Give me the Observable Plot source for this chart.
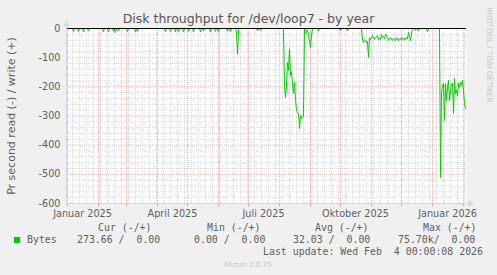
<!DOCTYPE html>
<html><head><meta charset="utf-8">
<script src="https://cdn.jsdelivr.net/npm/d3@7"></script>
<script src="https://cdn.jsdelivr.net/npm/@observablehq/plot@0.6"></script>
<style>
html,body{margin:0;padding:0;background:#f0f0f0;}
#wrap{position:relative;width:497px;height:275px;background:#f0f0f0;overflow:hidden;}
#wrap svg{position:absolute;left:0;top:0;}
.t{position:absolute;white-space:pre;}
</style></head><body><div id="wrap"></div>
<script>
// ---- chart texts ----
const title = "Disk throughput for /dev/loop7 - by year";
const yLabel = "Pr second read (-) / write (+)";
const watermark = "RRDTOOL / TOBI OETIKER";
const footer = "Munin 2.0.75";
// ---- axis ticks ----
const yTicks = [0, -100, -200, -300, -400, -500, -600];
const yTickLabels = ["0", "-100", "-200", "-300", "-400", "-500", "-600"];
const xLabelDates = ["2025-01-16", "2025-04-16", "2025-07-16", "2025-10-16", "2026-01-16"];
const xLabels = ["Januar 2025", "April 2025", "Juli 2025", "Oktober 2025", "Januar 2026"];
// ---- series: read bytes per second (negative side), daily ----
const spikeDates = ["2025-01-07","2025-01-12","2025-01-17","2025-01-22","2025-02-06","2025-02-11","2025-02-16","2025-02-18","2025-02-21","2025-03-02","2025-03-10","2025-03-12","2025-04-09","2025-04-14","2025-04-19","2025-04-22","2025-04-27","2025-05-02","2025-05-07","2025-05-14","2025-05-17","2025-05-24","2025-05-29","2025-06-01","2025-06-10","2025-06-13","2025-07-10","2025-07-13","2025-09-09","2025-10-01","2025-10-08","2025-12-15","2025-12-18","2025-12-27"];
const spikeValues = [-11,-10,-12,-9,-11,-12,-10,-13,-9,-11,-12,-10,-11,-10,-12,-10,-12,-10,-11,-11,-9,-12,-10,-11,-9,-11,-8,-7,-8,-8,-9,-7,-8,-11];
const juneStart = "2025-06-19";
const juneValues = [-12, -88, -5];
const augStart = "2025-08-06";
const augValues = [-200,-237,-200,-117,-144,-70,-161,-150,-189,-223,-185,-240,-281,-288,-290,-343,-298,-305,-307,-300,0,0,-15,-5,-20,-45,-65,-25];
const octStart = "2025-10-23";
const octValues = [-41,-48,-38,-40,-48,-45,-99,-31,-38,-35,-24,-33,-38,-31,-28,-24,-38,-33,-38,-21,-30,-28,-35,-20,-22,-32,-41,-36,-31,-38,-41,-35,-38,-41,-31,-38,-42,-35,-39,-31,-36,-41,-34,-38,-31,-36,-14,-24,-41,-20];
const janStart = "2026-01-09";
const janValues = [-511,-223,-195,-189,-315,-189,-247,-202,-178,-247,-212,-189,-189,-291,-171,-223,-212,-230,-188,-202,-185,-195,-178,-212,-257,-274];
// ---- legend ----
const seriesName = "Bytes";
const legendHeaders = ["Cur (-/+)", "Min (-/+)", "Avg (-/+)", "Max (-/+)"];
const legendValues = ["273.66 /  0.00", "0.00 /  0.00", "32.03 /  0.00", "75.70k/  0.00"];
const lastUpdate = "Last update: Wed Feb  4 00:00:08 2026";

// ---- build table ----
const start = new Date(Date.UTC(2024, 11, 31));
const end = new Date(Date.UTC(2026, 1, 4));
const fmt = d3.utcFormat("%Y-%m-%d");
const vals = new Map();
spikeDates.forEach((d, i) => vals.set(d, spikeValues[i]));
function addRun(s, arr) {
  const s0 = new Date(s + "T00:00:00Z");
  arr.forEach((v, i) => vals.set(fmt(d3.utcDay.offset(s0, i)), v));
}
addRun(juneStart, juneValues);
addRun(augStart, augValues);
addRun(octStart, octValues);
addRun(janStart, janValues);
const series = d3.utcDay.range(start, end).map(d => ({date: d, value: vals.has(fmt(d)) ? vals.get(fmt(d)) : 0}));

const weeks = d3.utcMonday.range(start, end);
const months = d3.utcMonth.range(start, end);
const minorY = d3.range(-580, 0, 20).filter(v => v % 100 !== 0);
const majorY = yTicks.filter(v => v !== 0 && v !== -600);
const xLab = xLabelDates.map((d, i) => ({date: new Date(d + "T00:00:00Z"), label: xLabels[i]}));
const yLab = yTicks.map((v, i) => ({v, label: yTickLabels[i]}));

const AXIS = "#CFD6F8";
const FONT = "#5e5e5e";

const chart = Plot.plot({
  width: 497, height: 222,
  marginTop: 28, marginBottom: 19, marginLeft: 66, marginRight: 31,
  x: {type: "utc", domain: [start, end], axis: null},
  y: {domain: [-600, 0], axis: null},
  style: {background: "transparent", fontFamily: "DejaVu Sans", fontSize: "9.7px", color: FONT, overflow: "visible"},
  marks: [
    Plot.frame({fill: "white", stroke: "none"}),
    Plot.ruleX(weeks, {y1: -600, y2: 0, stroke: "#8f8f8f", strokeOpacity: 0.32, strokeDasharray: "1,1"}),
    Plot.ruleY(minorY, {stroke: "#8f8f8f", strokeOpacity: 0.32, strokeDasharray: "1,1"}),
    Plot.ruleX(months, {y1: -600, y2: 0, stroke: "#de4f4f", strokeOpacity: 0.38, strokeDasharray: "1,1"}),
    Plot.ruleY(majorY, {stroke: "#de4f4f", strokeOpacity: 0.38, strokeDasharray: "1,1"}),
    Plot.ruleX(months, {y1: -600, y2: -610, stroke: "#de4f4f", strokeOpacity: 0.6}),
    Plot.line(series, {x: "date", y: "value", stroke: "#00cc00", strokeWidth: 1}),
    Plot.ruleY([0], {x1: start, x2: end, stroke: "#000000"}),
    Plot.ruleX([start], {y1: -600, y2: 18, stroke: AXIS}),
    Plot.ruleY([-600], {x1: start, x2: d3.utcDay.offset(end, 4), stroke: AXIS}),
    Plot.dot([start], {x: d => d, y: 15, symbol: "triangle2", r: 3, fill: AXIS, stroke: "none"}),
    Plot.dot([d3.utcDay.offset(end, 4)], {x: d => d, y: -600, symbol: "triangle2", r: 3, fill: AXIS, stroke: "none", rotate: 90}),
    Plot.text(yLab, {x: start, y: "v", text: "label", textAnchor: "end", dx: -6, fill: FONT}),
    Plot.text(xLab, {x: "date", y: -600, text: "label", lineAnchor: "bottom", dy: 13.5, fill: FONT})
  ]
});
const wrap = document.getElementById("wrap");
wrap.appendChild(chart);

function addText(str, o) {
  const el = document.createElement("div");
  el.className = "t";
  el.textContent = str;
  const size = o.size;
  el.style.fontFamily = o.family || "DejaVu Sans";
  el.style.fontSize = size + "px";
  el.style.lineHeight = size + "px";
  el.style.color = o.color || FONT;
  if (o.rotate) {
    el.style.left = o.x + "px";
    el.style.top = o.y + "px";
    el.style.transform = "translate(-50%,-50%) rotate(" + o.rotate + "deg)";
  } else {
    el.style.top = (o.baseline - 0.846 * size) + "px";
    if (o.anchor === "middle") { el.style.left = o.x + "px"; el.style.transform = "translateX(-50%)"; }
    else if (o.anchor === "end") { el.style.right = (497 - o.x) + "px"; }
    else el.style.left = o.x + "px";
  }
  wrap.appendChild(el);
  return el;
}
addText(title, {x: 248.5, baseline: 23.5, size: 12.5, anchor: "middle", color: "#555"});
addText(yLabel, {x: 10.5, y: 116, size: 11, rotate: -90});
addText(watermark, {x: 488.5, y: 55, size: 7.4, rotate: 90, color: "#c4c4c4"});
const MONO = "DejaVu Sans Mono";
const headerX = [98, 207, 315, 423];
legendHeaders.forEach((h, i) => addText(h, {x: headerX[i], baseline: 231, size: 9.9, family: MONO}));
const valueX = [77, 194, 293, 398];
addText(seriesName, {x: 27, baseline: 243, size: 9.9, family: MONO});
legendValues.forEach((v, i) => addText(v, {x: valueX[i], baseline: 243, size: 9.9, family: MONO}));
addText(lastUpdate, {x: 483, baseline: 255, size: 9.9, family: MONO, anchor: "end"});
addText(footer, {x: 248, baseline: 267, size: 7.3, anchor: "middle", color: "#c4c4c4"});
const sw = document.createElement("div");
sw.style.cssText = "position:absolute;left:14px;top:237px;width:6px;height:6px;background:#00cc00;";
wrap.appendChild(sw);
</script></body></html>
